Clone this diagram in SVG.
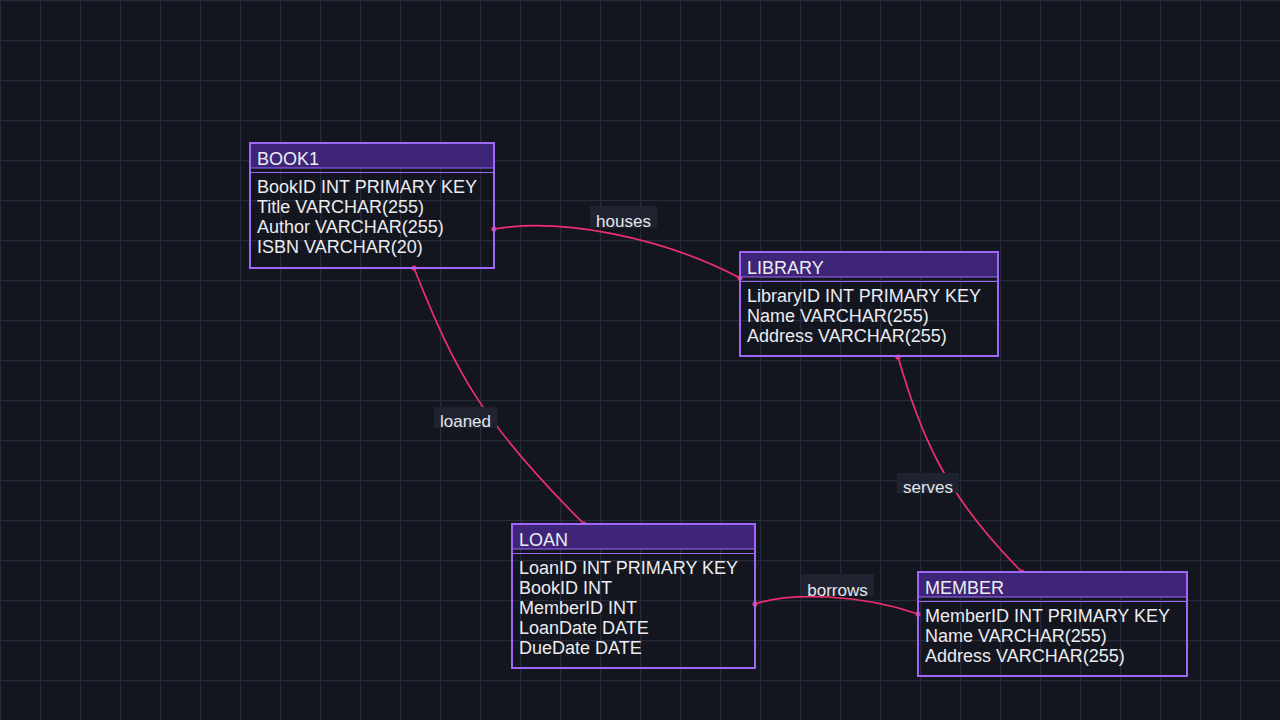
<svg xmlns="http://www.w3.org/2000/svg" width="1280" height="720" viewBox="0 0 1280 720">
  <defs>
    <pattern id="grid" x="0" y="0" width="40" height="40" patternUnits="userSpaceOnUse">
      <path d="M40 0.5 H0.5 V40" fill="none" stroke="#262a3a" stroke-width="1.5"/>
    </pattern>
    <style>
      .box { fill: none; stroke: #a066f7; stroke-width: 2; }
      .head { fill: #3e2577; }
      .sep { stroke: #a066f7; stroke-width: 1.2; }
      .title { font-family: "Liberation Sans", Arial, sans-serif; font-size: 18px; fill: #ececf1; }
      .row { font-family: "Liberation Sans", Arial, sans-serif; font-size: 18px; fill: #ececf1; }
      .edge { fill: none; stroke: #ee2f6f; stroke-width: 1.7; }
      .dot { fill: #ee2f6f; }
      .lblbg { fill: #1f2331; }
      .lbl { font-family: "Liberation Sans", Arial, sans-serif; font-size: 17px; fill: #e6e6ea; text-anchor: middle; }
    </style>
  </defs>
  <rect width="1280" height="720" fill="#13161f"/>
  <rect width="1280" height="720" fill="url(#grid)"/>

  <g id="connectors">
    <path class="edge" d="M494,229 C560,218 660,236 740,278"/>
    <circle class="dot" cx="494" cy="229" r="2.6"/>
    <circle class="dot" cx="740" cy="278" r="2.6"/>
    <path class="edge" d="M414,268 C456,374 483,423 584,524"/>
    <circle class="dot" cx="414" cy="268" r="2.6"/>
    <circle class="dot" cx="584" cy="524" r="2.6"/>
    <path class="edge" d="M898,357 C921,435 944,494 1022,572"/>
    <circle class="dot" cx="898" cy="357" r="2.6"/>
    <circle class="dot" cx="1022" cy="572" r="2.6"/>
    <path class="edge" d="M755,604 C790,592 860,594 918,614"/>
    <circle class="dot" cx="755" cy="604" r="2.6"/>
    <circle class="dot" cx="918" cy="614" r="2.6"/>

    <rect class="lblbg" x="590" y="206" width="67" height="22"/>
    <text class="lbl" x="623.5" y="227">houses</text>
    <rect class="lblbg" x="434" y="407" width="63" height="21"/>
    <text class="lbl" x="465.5" y="427">loaned</text>
    <rect class="lblbg" x="897" y="473" width="62" height="20"/>
    <text class="lbl" x="928" y="493">serves</text>
    <rect class="lblbg" x="801" y="574" width="73" height="22"/>
    <text class="lbl" x="837.5" y="596">borrows</text>
  </g>

  <g id="book1">
    <rect class="head" x="250" y="143" width="244" height="25"/>
    <rect class="box" x="250" y="143" width="244" height="125"/>
    <line class="sep" x1="250" y1="168" x2="494" y2="168"/>
    <line class="sep" x1="250" y1="172.5" x2="494" y2="172.5"/>
    <text class="title" x="257" y="164.5">BOOK1</text>
    <text class="row" x="257" y="193">BookID INT PRIMARY KEY</text>
    <text class="row" x="257" y="213">Title VARCHAR(255)</text>
    <text class="row" x="257" y="233">Author VARCHAR(255)</text>
    <text class="row" x="257" y="253">ISBN VARCHAR(20)</text>
  </g>

  <g id="library">
    <rect class="head" x="740" y="252" width="258" height="25"/>
    <rect class="box" x="740" y="252" width="258" height="104"/>
    <line class="sep" x1="740" y1="277" x2="998" y2="277"/>
    <line class="sep" x1="740" y1="281.5" x2="998" y2="281.5"/>
    <text class="title" x="747" y="273.5">LIBRARY</text>
    <text class="row" x="747" y="302">LibraryID INT PRIMARY KEY</text>
    <text class="row" x="747" y="322">Name VARCHAR(255)</text>
    <text class="row" x="747" y="342">Address VARCHAR(255)</text>
  </g>

  <g id="loan">
    <rect class="head" x="512" y="524" width="243" height="25"/>
    <rect class="box" x="512" y="524" width="243" height="144"/>
    <line class="sep" x1="512" y1="549" x2="755" y2="549"/>
    <line class="sep" x1="512" y1="553.5" x2="755" y2="553.5"/>
    <text class="title" x="519" y="545.5">LOAN</text>
    <text class="row" x="519" y="574">LoanID INT PRIMARY KEY</text>
    <text class="row" x="519" y="594">BookID INT</text>
    <text class="row" x="519" y="614">MemberID INT</text>
    <text class="row" x="519" y="634">LoanDate DATE</text>
    <text class="row" x="519" y="654">DueDate DATE</text>
  </g>

  <g id="member">
    <rect class="head" x="918" y="572" width="269" height="25"/>
    <rect class="box" x="918" y="572" width="269" height="104"/>
    <line class="sep" x1="918" y1="597" x2="1187" y2="597"/>
    <line class="sep" x1="918" y1="601.5" x2="1187" y2="601.5"/>
    <text class="title" x="925" y="593.5">MEMBER</text>
    <text class="row" x="925" y="622">MemberID INT PRIMARY KEY</text>
    <text class="row" x="925" y="642">Name VARCHAR(255)</text>
    <text class="row" x="925" y="662">Address VARCHAR(255)</text>
  </g>
</svg>
